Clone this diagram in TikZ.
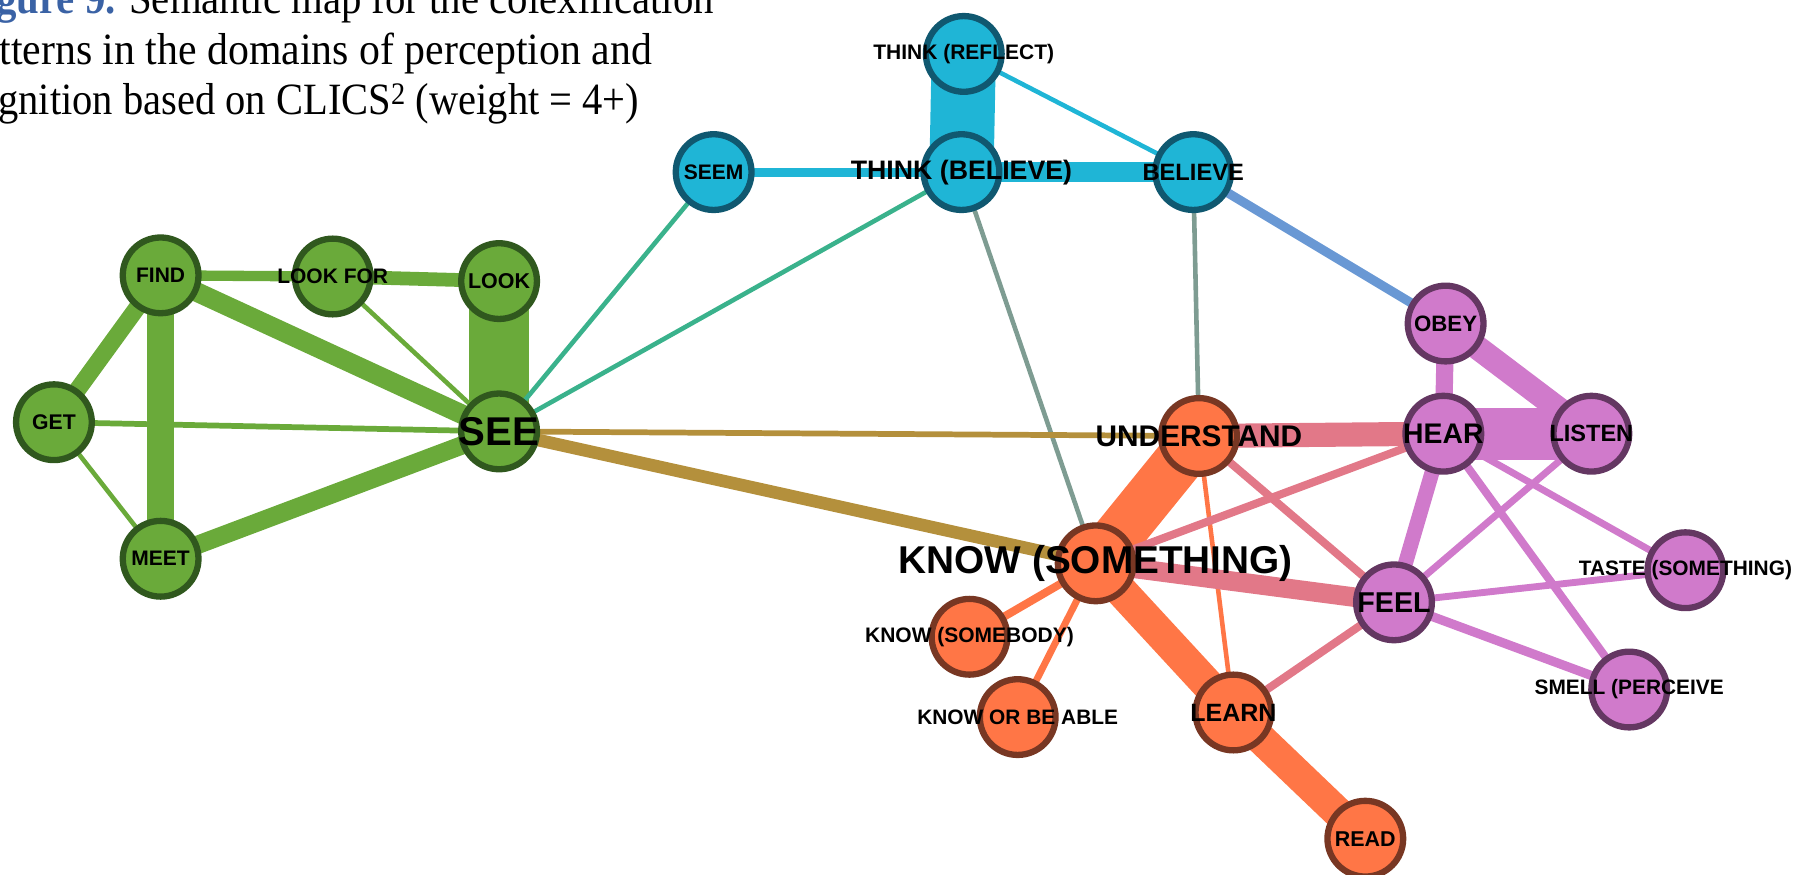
\documentclass[tikz,border=0pt]{standalone}
\usepackage{graphicx}
\usepackage{fontspec}
\setmainfont{Liberation Serif}
\newfontfamily\labelfont{Liberation Sans}
\pgfdeclarelayer{edgelayer}
\pgfsetlayers{edgelayer,main}

% node fills and rims
\definecolor{grfill}{RGB}{106,170,58}
\definecolor{grrim}{RGB}{48,88,30}
\definecolor{blfill}{RGB}{31,181,214}
\definecolor{blrim}{RGB}{16,88,112}
\definecolor{orfill}{RGB}{255,118,70}
\definecolor{orrim}{RGB}{120,55,35}
\definecolor{pufill}{RGB}{208,122,203}
\definecolor{purim}{RGB}{100,55,98}
% mixed-cluster edges
\definecolor{tealedge}{RGB}{58,178,140}
\definecolor{grayedge}{RGB}{126,156,146}
\definecolor{steeledge}{RGB}{105,152,212}
\definecolor{goldedge}{RGB}{180,144,60}
\definecolor{pinkedge}{RGB}{226,120,136}
\definecolor{capblue}{RGB}{58,98,165}

\newcommand\cname[1]{\makebox[0pt]{#1}}

\tikzset{
  concept/.style={circle, minimum size=66pt, inner sep=0pt, line width=5.5pt,
    font=\labelfont\bfseries\fontsize{18.3}{20}\selectfont},
  sz/.style={font=\labelfont\bfseries\fontsize{#1}{#1}\selectfont},
  gnode/.style={concept, fill=grfill, draw=grrim},
  bnode/.style={concept, fill=blfill, draw=blrim},
  onode/.style={concept, fill=orfill, draw=orrim},
  pnode/.style={concept, fill=pufill, draw=purim},
  link/.style={line width=#1},
  capline/.style={anchor=base west, inner sep=0pt, font=\fontsize{39}{44}\selectfont},
}

\begin{document}
\begin{tikzpicture}[x=1pt,y=-1pt]
\useasboundingbox (0,0) rectangle (1568,762);
\clip (0,0) rectangle (1568,762);

% caption
\node[capline] (cap1) at (-35,12) {\resizebox{657pt}{\height}{{\color{capblue}\bfseries Figure 9.} Semantic map for the colexification}};
\node[capline] (cap2) at (-35,56) {\resizebox{603pt}{\height}{patterns in the domains of perception and}};
\node[capline] (cap3) at (-35,100) {\resizebox{592pt}{\height}{cognition based on CLICS\textsuperscript{2} (weight = 4+)}};

% seeing cluster
\node[gnode] (find) at (140,240) {\cname{FIND}};
\node[gnode] (lookfor) at (290,241) {\cname{LOOK FOR}};
\node[gnode, sz=18.7] (look) at (435,245) {\cname{LOOK}};
\node[gnode, sz=18.5] (get) at (47,368) {\cname{GET}};
\node[gnode, sz=35] (see) at (435,376) {\cname{SEE}};
\node[gnode] (meet) at (140,487) {\cname{MEET}};

% thinking cluster
\node[bnode] (reflect) at (840,47) {\cname{THINK (REFLECT)}};
\node[bnode] (seem) at (622,150) {\cname{SEEM}};
\node[bnode, sz=23.3] (tbelieve) at (838,150) {\cname{THINK (BELIEVE)}};
\node[bnode, sz=20.6] (believe) at (1040,150) {\cname{BELIEVE}};

% knowing cluster
\node[onode, sz=26] (understand) at (1045,380) {\cname{UNDERSTAND}};
\node[onode, sz=33.8] (ksomething) at (955,491) {\cname{\raisebox{-4pt}{KNOW (SOMETHING)}}};
\node[onode] (ksomebody) at (845,555) {\cname{KNOW (SOMEBODY)}};
\node[onode, sz=18.2] (kable) at (887,625) {\cname{KNOW OR BE ABLE}};
\node[onode, sz=21.8] (learn) at (1075,621) {\cname{LEARN}};
\node[onode, sz=18.7] (read) at (1190,731) {\cname{READ}};

% hearing and feeling cluster
\node[pnode, sz=19.4] (obey) at (1260,282) {\cname{OBEY}};
\node[pnode, sz=24.7] (hear) at (1258,378) {\cname{HEAR}};
\node[pnode, sz=20.5] (listen) at (1387,378) {\cname{LISTEN}};
\node[pnode, sz=25] (feel) at (1215,525) {\cname{FEEL}};
\node[pnode, sz=18.2] (taste) at (1469,497) {\cname{TASTE (SOMETHING)}};
\node[pnode, sz=18.2] (smell) at (1420,601) {\cname{SMELL (PERCEIVE}};

\begin{pgfonlayer}{edgelayer}
  % green
  \begin{scope}[draw=grfill]
    \draw[link=9]  (find.center) -- (lookfor.center);
    \draw[link=12] (lookfor.center) -- (look.center);
    \draw[link=52] (look.center) -- (see.center);
    \draw[link=17] (find.center) -- (see.center);
    \draw[link=4]  (lookfor.center) -- (see.center);
    \draw[link=15] (find.center) -- (get.center);
    \draw[link=24] (find.center) -- (meet.center);
    \draw[link=5]  (get.center) -- (see.center);
    \draw[link=4]  (get.center) -- (meet.center);
    \draw[link=16] (meet.center) -- (see.center);
  \end{scope}
  % teal
  \begin{scope}[draw=tealedge]
    \draw[link=4] (seem.center) -- (see.center);
    \draw[link=4] (tbelieve.center) -- (see.center);
  \end{scope}
  % blue
  \begin{scope}[draw=blfill]
    \draw[link=56] (reflect.center) -- (tbelieve.center);
    \draw[link=17] (tbelieve.center) -- (believe.center);
    \draw[link=8]  (seem.center) -- (tbelieve.center);
    \draw[link=4]  (reflect.center) -- (believe.center);
  \end{scope}
  % gray and steel
  \draw[grayedge, link=4] (tbelieve.center) -- (ksomething.center);
  \draw[grayedge, link=4] (believe.center) -- (understand.center);
  \draw[steeledge, link=8] (believe.center) -- (obey.center);
  % gold
  \draw[goldedge, link=5]  (see.center) -- (understand.center);
  \draw[goldedge, link=11] (see.center) -- (ksomething.center);
  % orange
  \begin{scope}[draw=orfill]
    \draw[link=43] (understand.center) -- (ksomething.center);
    \draw[link=28] (ksomething.center) -- (learn.center);
    \draw[link=27] (learn.center) -- (read.center);
    \draw[link=4]  (understand.center) -- (learn.center);
    \draw[link=7]  (ksomething.center) -- (ksomebody.center);
    \draw[link=6]  (ksomething.center) -- (kable.center);
  \end{scope}
  % pink
  \begin{scope}[draw=pinkedge]
    \draw[link=21] (understand.center) -- (hear.center);
    \draw[link=17] (ksomething.center) -- (feel.center);
    \draw[link=7]  (ksomething.center) -- (hear.center);
    \draw[link=7]  (understand.center) -- (feel.center);
    \draw[link=7]  (learn.center) -- (feel.center);
  \end{scope}
  % purple
  \begin{scope}[draw=pufill]
    \draw[link=15] (obey.center) -- (hear.center);
    \draw[link=21] (obey.center) -- (listen.center);
    \draw[link=45] (hear.center) -- (listen.center);
    \draw[link=13] (hear.center) -- (feel.center);
    \draw[link=6]  (listen.center) -- (feel.center);
    \draw[link=6]  (hear.center) -- (taste.center);
    \draw[link=7]  (hear.center) -- (smell.center);
    \draw[link=6]  (feel.center) -- (taste.center);
    \draw[link=8]  (feel.center) -- (smell.center);
  \end{scope}
\end{pgfonlayer}
\end{tikzpicture}
\end{document}
